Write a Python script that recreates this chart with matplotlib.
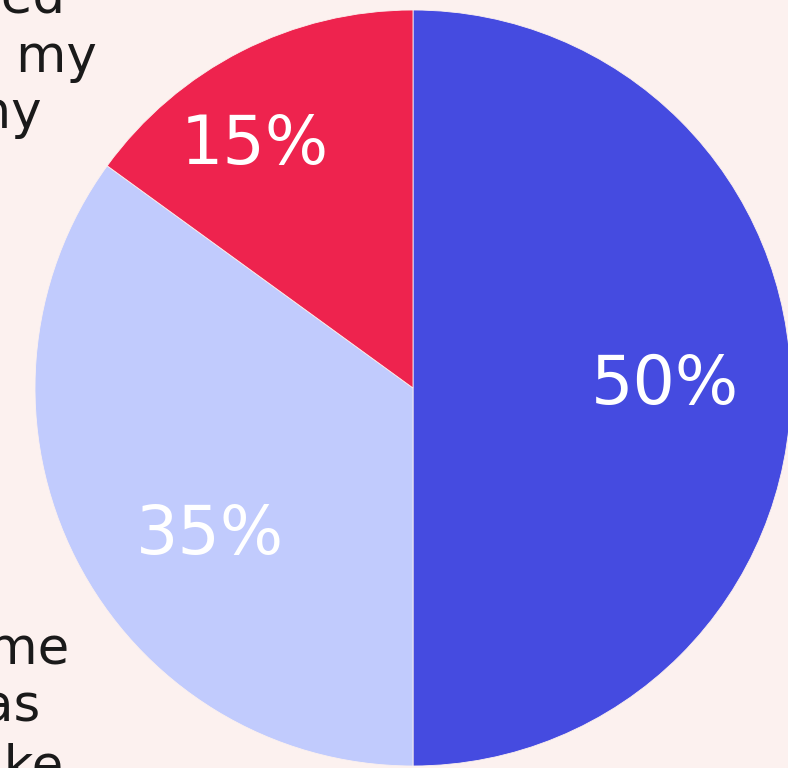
import matplotlib.pyplot as plt

shares = [50, 35, 15]
colors = ['#454BE0', '#C1CBFD', '#EE234E']
legend_top = ['improved', 'in my', 'many']
legend_bottom = ['time', 'was', 'like']
bg = '#FCF1EF'

# where each percentage label sits, in pie radius units
label_pos = [(0.667, 0.008), (-0.537, -0.389), (-0.418, 0.643)]

fig = plt.figure(figsize=(7.88, 7.68), dpi=100, facecolor=bg)
W, H = 788, 768
ax = fig.add_axes([35 / W, 2 / H, 756 / W, 756 / H])
ax.set_facecolor(bg)

wedges, texts, autotexts = ax.pie(
    shares, colors=colors, startangle=90, counterclock=False,
    autopct=lambda p: f'{p:.0f}%', pctdistance=0.69,
    wedgeprops=dict(edgecolor=bg, linewidth=0.6),
    textprops=dict(color='white', fontsize=48, family='DejaVu Sans'))
for t, pos in zip(autotexts, label_pos):
    t.set_position(pos)
ax.set_xlim(-1, 1)
ax.set_ylim(-1, 1)
ax.set_aspect('equal')
ax.axis('off')

# cropped legend text on the left edge
top_right = [65, 97, 42]
top_base = [13, 72, 128]
for s, x, y in zip(legend_top, top_right, top_base):
    fig.text(x / W, 1 - y / H, s, ha='right', va='baseline',
             fontsize=37, color='#1a1a1a', family='DejaVu Sans')
bot_right = [70, 41, 63]
bot_base = [663, 722, 781]
for s, x, y in zip(legend_bottom, bot_right, bot_base):
    fig.text(x / W, 1 - y / H, s, ha='right', va='baseline',
             fontsize=37, color='#1a1a1a', family='DejaVu Sans')

fig.savefig('out.png', facecolor=bg)
